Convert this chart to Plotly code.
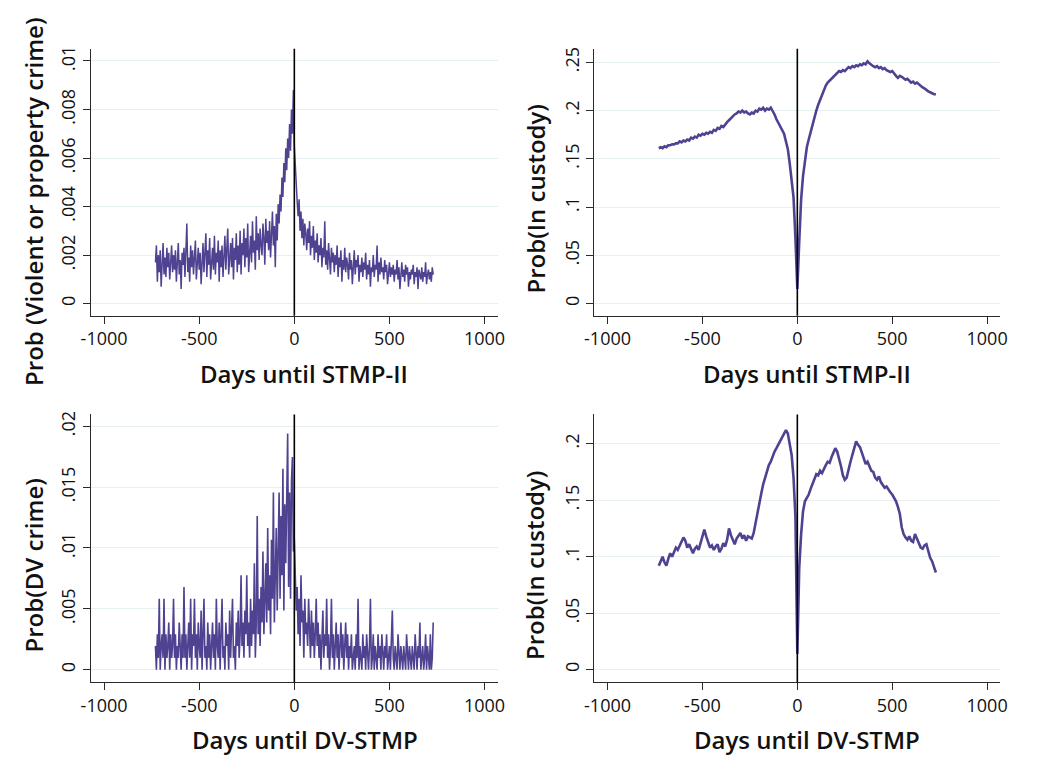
import plotly.graph_objects as go

# Days relative to the start of the programme
days_5 = list(range(-730, 731, 5))    # noisy crime series, 5-day samples
days_10 = list(range(-730, 731, 10))  # custody series, 10-day samples

# Prob(violent or property crime) around STMP-II, per 10,000
crime_stmp_per10k = [
    17, 24, 9, 20, 13, 22, 7, 18, 25, 12,
    19, 11, 23, 15, 21, 10, 17, 24, 13, 20,
    14, 22, 9, 19, 25, 12, 18, 6, 21, 16,
    23, 11, 20, 33, 13, 19, 9, 24, 15, 22,
    12, 20, 26, 10, 18, 23, 14, 21, 8, 19,
    25, 13, 20, 29, 11, 22, 16, 27, 10, 19,
    23, 14, 28, 12, 21, 17, 26, 9, 22, 15,
    24, 11, 20, 28, 14, 22, 31, 12, 19, 25,
    15, 27, 10, 23, 18, 29, 13, 24, 16, 30,
    12, 25, 20, 31, 15, 27, 19, 33, 13, 24,
    28, 17, 34, 21, 26, 14, 36, 22, 29, 18,
    31, 24, 20, 33, 27, 16, 35, 25, 30, 22,
    34, 19, 29, 38, 24, 32, 15, 37, 26, 41,
    33, 45, 38, 52, 44, 58, 50, 64, 55, 68,
    60, 74, 63, 80, 70, 88, 65, 55, 46, 42,
    36, 43, 30, 38, 27, 35, 24, 33, 29, 22,
    31, 25, 34, 20, 28, 23, 32, 18, 26, 21,
    29, 17, 24, 20, 27, 15, 23, 19, 34, 16,
    22, 14, 25, 18, 12, 23, 17, 21, 13, 20,
    16, 24, 11, 19, 15, 22, 9, 18, 14, 23,
    13, 19, 16, 10, 21, 14, 18, 8, 17, 22,
    12, 18, 15, 20, 9, 16, 13, 19, 11, 17,
    14, 21, 10, 16, 12, 18, 7, 15, 13, 20,
    11, 16, 14, 24, 9, 17, 12, 19, 13, 15,
    10, 18, 13, 16, 8, 14, 17, 11, 15, 12,
    16, 9, 14, 12, 18, 10, 15, 6, 13, 17,
    11, 14, 9, 16, 12, 15, 7, 13, 10, 14,
    12, 16, 8, 13, 11, 15, 6, 14, 12, 10,
    15, 9, 13, 11, 17, 8, 12, 14, 10, 13,
    9, 15, 12,
]

# Prob(in custody) around STMP-II
custody_stmp = [
    .161, .162, .161, .163, .162, .164, .164, .165, .165, .166,
    .166, .168, .167, .169, .168, .170, .169, .172, .171, .173,
    .172, .175, .174, .176, .175, .177, .176, .178, .177, .180,
    .179, .182, .181, .184, .183, .186, .188, .190, .192, .195,
    .196, .197, .199, .198, .200, .198, .199, .197, .196, .198,
    .197, .200, .199, .202, .201, .203, .200, .202, .201, .203,
    .200, .196, .191, .187, .183, .180, .176, .168, .160, .145,
    .130, .110, .068, .015, .064, .108, .132, .150, .162, .170,
    .178, .185, .193, .200, .206, .211, .217, .222, .226, .229,
    .231, .233, .236, .238, .239, .241, .240, .242, .241, .243,
    .245, .244, .246, .245, .247, .246, .248, .247, .249, .248,
    .251, .249, .247, .246, .245, .246, .244, .245, .243, .244,
    .242, .241, .240, .241, .238, .236, .234, .236, .235, .233,
    .232, .233, .231, .229, .230, .228, .229, .227, .226, .224,
    .223, .221, .220, .219, .218, .217, .217,
]

# DV crime counts around DV-STMP (out of DV_N people)
DV_N = 1030
dv_crime_counts = [
    2, 0, 3, 1, 6, 0, 2, 3, 1, 6,
    0, 3, 1, 2, 4, 0, 3, 1, 2, 6,
    1, 3, 0, 2, 1, 4, 2, 0, 3, 1,
    7, 1, 3, 0, 2, 4, 1, 6, 0, 3,
    2, 6, 1, 3, 0, 4, 2, 1, 5, 0,
    3, 6, 1, 2, 0, 4, 1, 3, 0, 2,
    4, 1, 3, 0, 6, 2, 1, 4, 0, 3,
    6, 1, 2, 0, 4, 2, 3, 0, 5, 1,
    3, 6, 1, 2, 0, 4, 2, 5, 1, 3,
    8, 2, 4, 1, 5, 3, 8, 2, 4, 1,
    6, 2, 5, 3, 9, 1, 4, 13, 3, 6,
    2, 7, 4, 10, 3, 6, 9, 4, 12, 5,
    8, 3, 11, 6, 15, 4, 9, 12, 5, 10,
    15, 6, 13, 8, 17, 5, 14, 9, 16, 20,
    7, 15, 6, 16, 18, 10, 11, 8, 5, 7,
    3, 6, 2, 8, 4, 5, 1, 6, 3, 4,
    2, 6, 3, 1, 5, 2, 4, 1, 3, 6,
    2, 4, 1, 3, 0, 2, 5, 1, 3, 2,
    6, 1, 3, 0, 2, 6, 1, 3, 0, 2,
    4, 1, 3, 0, 2, 4, 1, 3, 0, 2,
    4, 1, 3, 0, 2, 1, 3, 0, 1, 2,
    0, 3, 1, 6, 0, 2, 1, 0, 3, 1,
    2, 0, 3, 1, 0, 2, 6, 0, 1, 3,
    0, 2, 1, 0, 3, 1, 2, 0, 3, 1,
    0, 2, 1, 3, 0, 1, 2, 0, 3, 5,
    1, 0, 2, 1, 0, 3, 1, 0, 2, 1,
    0, 2, 1, 0, 3, 1, 0, 2, 1, 0,
    2, 1, 0, 3, 1, 0, 2, 1, 4, 0,
    1, 2, 0, 1, 3, 0, 2, 1, 0, 3,
    0, 1, 4,
]

# Prob(in custody) around DV-STMP
custody_dv = [
    .092, .096, .100, .095, .092, .098, .103, .100, .105, .108,
    .106, .110, .113, .117, .114, .108, .111, .106, .103, .107,
    .109, .106, .112, .117, .124, .118, .112, .108, .110, .106,
    .109, .111, .104, .107, .112, .109, .115, .125, .119, .114,
    .111, .116, .118, .121, .116, .119, .114, .118, .117, .116,
    .121, .130, .141, .147, .156, .164, .170, .176, .181, .184,
    .189, .193, .196, .199, .203, .205, .208, .212, .209, .201,
    .190, .170, .135, .014, .090, .120, .140, .149, .152, .155,
    .160, .165, .169, .173, .172, .176, .174, .178, .181, .184,
    .183, .188, .192, .196, .193, .187, .180, .172, .168, .170,
    .178, .184, .190, .196, .202, .199, .197, .192, .187, .182,
    .184, .180, .176, .175, .170, .168, .171, .166, .164, .161,
    .162, .159, .157, .155, .152, .149, .144, .138, .126, .120,
    .117, .115, .118, .114, .113, .120, .116, .111, .108, .107,
    .110, .111, .104, .099, .096, .090, .086,
]

# Tick values and labels
x_ticks = [-1000, -500, 0, 500, 1000]
x_ticktext = ['-1000', '-500', '0', '500', '1000']
y_ticks_crime = [0, .002, .004, .006, .008, .01]
y_ticktext_crime = ['0', '.002', '.004', '.006', '.008', '.01']
y_ticks_custody1 = [0, .05, .1, .15, .2, .25]
y_ticktext_custody1 = ['0', '.05', '.1', '.15', '.2', '.25']
y_ticks_dv = [0, .005, .01, .015, .02]
y_ticktext_dv = ['0', '.005', '.01', '.015', '.02']
y_ticks_custody2 = [0, .05, .1, .15, .2]
y_ticktext_custody2 = ['0', '.05', '.1', '.15', '.2']

x_titles = ['Days until STMP-II', 'Days until STMP-II', 'Days until DV-STMP', 'Days until DV-STMP']
y_titles = ['Prob (Violent or property crime)', 'Prob(In custody)', 'Prob(DV crime)', 'Prob(In custody)']

LINE_COLOR = '#4F4291'
AXIS_COLOR = '#2b2b2b'
GRID_COLOR = '#E6EFF1'
FONT = 'Open Sans'
PAGE_W, PAGE_H = 1039, 772
OFF = 8  # default body margin of the html page
W, H = PAGE_W - 2 * OFF, PAGE_H - 2 * OFF


def px_x(px):
    # page pixel -> paper fraction
    return (px - OFF) / W


def px_y(px):
    return 1 - (px - OFF) / H


fig = go.Figure()

series = [
    (days_5, [v / 10000 for v in crime_stmp_per10k], 1.5),
    (days_10, custody_stmp, 2.6),
    (days_5, [c / DV_N for c in dv_crime_counts], 1.6),
    (days_10, custody_dv, 2.6),
]
for i, (xs, ys, lw) in enumerate(series):
    fig.add_trace(go.Scatter(
        x=xs, y=ys, mode='lines',
        line=dict(color=LINE_COLOR, width=lw),
        xaxis='x' if i == 0 else f'x{i + 1}',
        yaxis='y' if i == 0 else f'y{i + 1}',
        showlegend=False,
    ))

# Panel placement in page pixels: left, right, top, bottom of the plot area
panels = [
    (82, 496, 46, 314),
    (594, 1007, 46, 314),
    (82, 496, 413, 682),
    (594, 1007, 413, 682),
]
y_ranges = [[-0.0005, 0.0105], [-0.0127, 0.264], [-0.00104, 0.02098], [-0.0112, 0.2259]]
y_tick_sets = [
    (y_ticks_crime, y_ticktext_crime),
    (y_ticks_custody1, y_ticktext_custody1),
    (y_ticks_dv, y_ticktext_dv),
    (y_ticks_custody2, y_ticktext_custody2),
]

layout = {}
for i, (l, r, t, b) in enumerate(panels):
    sfx = '' if i == 0 else str(i + 1)
    layout[f'xaxis{sfx}'] = dict(
        domain=[px_x(l), px_x(r)], anchor=f'y{sfx}', range=[-1070, 1070],
        tickvals=x_ticks, ticktext=x_ticktext,
        showline=True, linecolor=AXIS_COLOR, linewidth=1.2,
        ticks='outside', ticklen=7, tickcolor=AXIS_COLOR, tickwidth=1.2,
        showgrid=False, zeroline=False,
        tickfont=dict(family=FONT, size=18, color='#111'),
    )
    layout[f'yaxis{sfx}'] = dict(
        domain=[px_y(b), px_y(t)], anchor=f'x{sfx}', range=y_ranges[i],
        tickvals=y_tick_sets[i][0], ticktext=y_tick_sets[i][1], tickangle=-90,
        showline=True, linecolor=AXIS_COLOR, linewidth=1.2,
        ticks='outside', ticklen=7, tickcolor=AXIS_COLOR, tickwidth=1.2,
        showgrid=True, gridcolor=GRID_COLOR, gridwidth=1, zeroline=False,
        tickfont=dict(family=FONT, size=18, color='#111'),
    )
    # Vertical reference line at day 0
    fig.add_shape(type='line', x0=0, x1=0, y0=0, y1=1,
                  xref=f'x{sfx}', yref=f'y{sfx} domain',
                  line=dict(color='black', width=1.6))

fig.update_layout(**layout)

# Axis titles as annotations (pixel centres)
x_title_pos = [(299, 372), (810, 372), (300, 739), (810, 739)]
y_title_pos = [(24, 199), (534, 196), (24, 565), (534, 564)]
for i in range(4):
    fig.add_annotation(
        x=px_x(x_title_pos[i][0]), y=px_y(x_title_pos[i][1]),
        xref='paper', yref='paper', text=x_titles[i], showarrow=False,
        xanchor='center', yanchor='middle',
        font=dict(family=FONT, size=24, color='#111', weight=600),
    )
    fig.add_annotation(
        x=px_x(y_title_pos[i][0]), y=px_y(y_title_pos[i][1]),
        xref='paper', yref='paper', text=y_titles[i], showarrow=False,
        textangle=-90, xanchor='center', yanchor='middle',
        font=dict(family=FONT, size=24, color='#111', weight=600),
    )

fig.update_layout(
    width=W, height=H, autosize=False,
    margin=dict(l=0, r=0, t=0, b=0),
    paper_bgcolor='white', plot_bgcolor='white',
    font=dict(family=FONT),
)

fig.write_html('out.html')
